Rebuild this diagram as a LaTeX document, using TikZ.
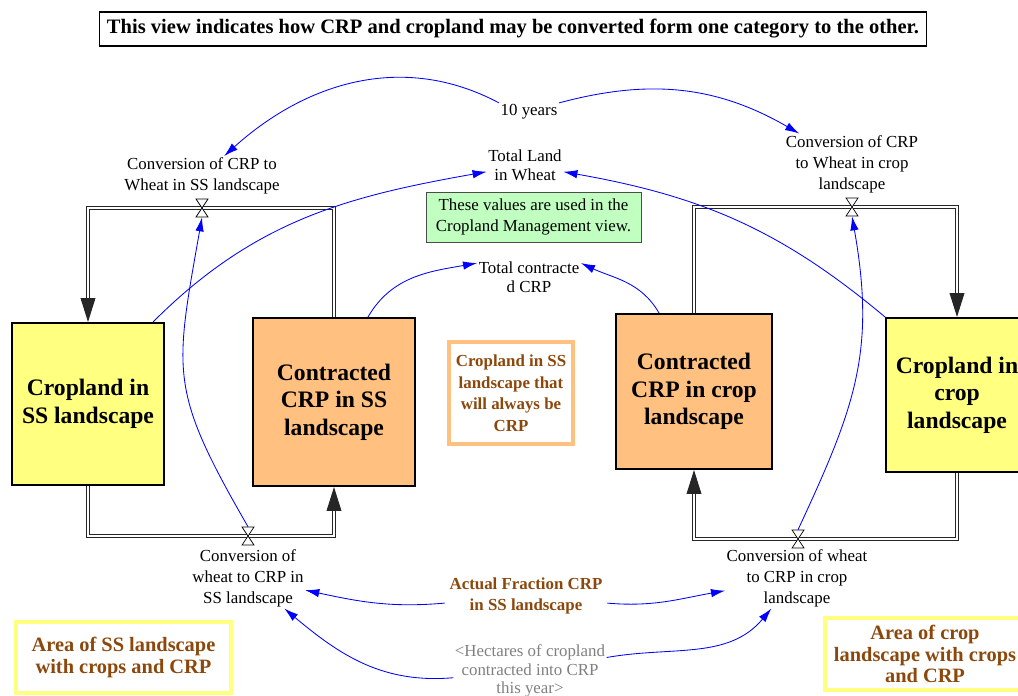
\documentclass[tikz,border=0pt]{standalone}
\usepackage{fontspec}
\setmainfont{Liberation Serif}
\usetikzlibrary{positioning}
\usetikzlibrary{arrows.meta}

\definecolor{stockyellow}{RGB}{255,255,128}
\definecolor{stockorange}{RGB}{255,192,128}
\definecolor{notebrown}{RGB}{140,72,12}
\definecolor{notegreen}{RGB}{192,255,192}
\definecolor{shadowgray}{RGB}{128,128,128}

\begin{document}
\begin{tikzpicture}[x=0.025cm,y=-0.025cm,
    stock/.style={draw,line width=1.4pt,align=center,inner sep=2pt,font=\fontsize{16.8}{19.5}\selectfont\bfseries},
    var/.style={align=center,inner sep=1pt,font=\fontsize{12}{15}\selectfont},
    note/.style={align=center,text=notebrown,font=\fontsize{12}{15.3}\selectfont\bfseries},
    valvenode/.style={inner sep=0pt,minimum width=0.3cm,minimum height=0.45cm},
    valve/.pic={\draw[fill=white,line width=0.5pt] (-6,-9) -- (6,-9) -- (-6,9) -- (6,9) -- cycle;},
    link/.style={blue,line width=0.6pt,-{Latex[length=10pt,width=6pt]}},
    pipe/.style={draw=black!85,line width=0.7pt,double=white,double distance=2pt,-{Triangle[length=17pt,width=10.5pt]}}]

  \useasboundingbox (0,0) rectangle (1018,696);

  \node[draw,line width=0.8pt,minimum width=20.65cm,minimum height=0.85cm,font=\fontsize{14.6}{16}\selectfont\bfseries] (title) at (513,29)
    {This view indicates how CRP and cropland may be converted form one category to the other.};

  \node[stock,fill=stockyellow,minimum width=3.8cm,minimum height=4.05cm] (cropss) at (88,404) {Cropland in\\SS landscape};
  \node[stock,fill=stockorange,minimum width=4.05cm,minimum height=4.2cm] (crpss) at (334,402) {Contracted\\CRP in SS\\landscape};
  \node[stock,fill=stockorange,minimum width=3.9cm,minimum height=3.875cm] (crpcrop) at (694,391.5) {Contracted\\CRP in crop\\landscape};
  \node[stock,fill=stockyellow,minimum width=3.55cm,minimum height=3.85cm] (cropcrop) at (957,395) {Cropland in\\crop\\landscape};

  \node[valvenode] (vssup) at (202,208) {};
  \node[valvenode] (vcropup) at (852,207) {};
  \node[valvenode] (vssdown) at (248,536) {};
  \node[valvenode] (vcropdown) at (798,539) {};

  \draw[pipe] (crpss.north) |- (vssup.center) -| (cropss.north);
  \draw[pipe] (crpcrop.north) |- (vcropup.center) -| (cropcrop.north);
  \draw[pipe] (cropss.south) |- (vssdown.center) -| (crpss.south);
  \draw[pipe] (cropcrop.south) |- (vcropdown.center) -| (crpcrop.south);

  \pic at (vssup) {valve};
  \pic at (vcropup) {valve};
  \pic at (vssdown) {valve};
  \pic at (vcropdown) {valve};

  \node[var] (cvtopss) at (202,176) {Conversion of CRP to\\Wheat in SS landscape};
  \node[var] (cvtopcrop) at (852,164) {Conversion of CRP\\to Wheat in crop\\landscape};
  \node[var] (cvbotss) at (248,578) {Conversion of\\wheat to CRP in\\SS landscape};
  \node[var] (cvbotcrop) at (797,578) {Conversion of wheat\\to CRP in crop\\landscape};

  \node[var] (years) at (529,112) {10 years};
  \node[var,font=\fontsize{12}{13.5}\selectfont] (landwheat) at (525,165) {Total Land\\in Wheat};
  \node[var,font=\fontsize{12}{13.5}\selectfont] (totcrp) at (529,277) {Total contracte\\d CRP};
  \node[draw=black!70,fill=notegreen,align=center,minimum width=5.375cm,minimum height=1.25cm,font=\fontsize{12}{15}\selectfont] (usednote) at (533.5,217)
    {These values are used in the\\Cropland Management view.};

  \node[note,draw=stockorange,line width=3pt,minimum width=3.1cm,minimum height=2.55cm] (alwayscrp) at (511,393)
    {Cropland in SS\\landscape that\\will always be\\CRP};
  \node[note] (fraction) at (526,596) {Actual Fraction CRP\\in SS landscape};
  \node[var,text=shadowgray,font=\fontsize{12}{13}\selectfont] (hectares) at (530,671) {<Hectares of cropland\\contracted into CRP\\this year>};
  \node[note,draw=stockyellow,line width=3pt,minimum width=5.375cm,minimum height=1.775cm,font=\fontsize{14.5}{15}\selectfont\bfseries] (areass) at (123.5,657.5)
    {Area of SS landscape\\with crops and CRP};
  \node[note,draw=stockyellow,line width=3pt,minimum width=5cm,minimum height=1.8cm,font=\fontsize{14.5}{15.2}\selectfont\bfseries] (areacrop) at (925,654)
    {Area of crop\\landscape with crops\\and CRP};

  \draw[link] (years.north west) to[out=152,in=42] (cvtopss);
  \draw[link] (years.north east) to[out=15,in=150] (cvtopcrop);
  \draw[link] ([xshift=-0.3cm]cropss.north east) to[out=45,in=190] (landwheat);
  \draw[link] (cropcrop.north west) to[out=140,in=-10] (landwheat);
  \draw[link] ([xshift=0.85cm]crpss.north) to[out=60,in=190] (totcrp.165);
  \draw[link] ([xshift=-0.875cm]crpcrop.north) to[out=120,in=-25] (totcrp.15);
  \draw[link] (vssdown.north) to[out=120,in=-100,looseness=1.3] (vssup.south);
  \draw[link] (vcropdown.north) to[out=65,in=-80,looseness=1.1] (vcropup.south);
  \draw[link] (fraction) to[out=185,in=-12] (cvbotss);
  \draw[link] (fraction) to[out=-5,in=190] (cvbotcrop);
  \draw[link] (hectares) to[out=185,in=-40] (cvbotss);
  \draw[link] (hectares) to[out=10,in=-130] (cvbotcrop);

\end{tikzpicture}
\end{document}
